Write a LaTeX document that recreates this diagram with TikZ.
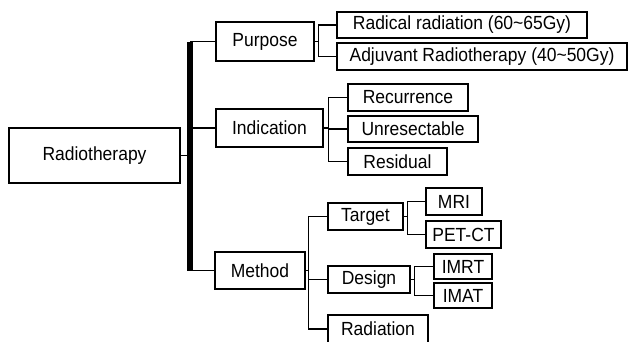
\documentclass[tikz,border=0pt]{standalone}
\usepackage{fontspec}
\setmainfont{Liberation Sans}[FakeStretch=0.92]

\tikzset{
  box/.style={draw, line width=1.4pt, inner sep=0pt, align=center,
    font=\fontsize{19}{21}\selectfont},
  link/.style={line width=1.4pt},
  spinebar/.style={line width=6pt}
}

\begin{document}
\begin{tikzpicture}[x=1pt,y=-1pt]
      \clip (0,0) rectangle (628,341);
      % first level
      \node[box, minimum width=171pt, minimum height=55pt] (root) at (94.5,155.5) {Radiotherapy};
      \node[box, minimum width=98pt, minimum height=39pt] (purpose) at (265,41.5) {Purpose};
      \node[box, minimum width=107pt, minimum height=38pt] (indication) at (269.5,128) {Indication};
      \node[box, minimum width=90pt, minimum height=37pt] (method) at (260,270.5) {Method};
      \coordinate (spine) at (190,155.5);
      \draw[link] (root.east) -- (spine);
      \draw[spinebar] (spine |- purpose.west) -- (spine |- method.west);
      \draw[link] (spine |- purpose.west) -- (purpose.west);
      \draw[link] (spine |- indication.west) -- (indication.west);
      \draw[link] (spine |- method.west) -- (method.west);
      % purpose
      \node[box, minimum width=250pt, minimum height=26pt] (radical) at (462,25) {Radical radiation (60\char`\~65Gy)};
      \node[box, minimum width=290pt, minimum height=27pt] (adjuvant) at (482,56.5) {Adjuvant Radiotherapy (40\char`\~50Gy)};
      \draw[link] (purpose.east) -- ++(4,0) |- (radical.west);
      \draw[link] (purpose.east) -- ++(4,0) |- (adjuvant.west);
      % indication
      \node[box, minimum width=120pt, minimum height=27pt] (recurrence) at (408,97.5) {Recurrence};
      \node[box, minimum width=130pt, minimum height=26pt] (unresectable) at (413,129) {Unresectable};
      \node[box, minimum width=99pt, minimum height=27pt] (residual) at (397.5,161.5) {Residual};
      \draw[link] (indication.east) -- ++(5,0) |- (recurrence.west);
      \draw[link] (indication.east) -- ++(5,0) |- (unresectable.west);
      \draw[link] (indication.east) -- ++(5,0) |- (residual.west);
      % method
      \node[box, minimum width=75pt, minimum height=27pt] (target) at (365.5,216.5) {Target};
      \node[box, minimum width=82pt, minimum height=27pt] (design) at (369,279.5) {Design};
      \node[box, minimum width=100pt, minimum height=28pt] (radiation) at (378,329) {Radiation};
      \draw[link] (method.east) -- ++(3,0) |- (target.west);
      \draw[link] (method.east) -- ++(3,0) |- (design.west);
      \draw[link] (method.east) -- ++(3,0) |- (radiation.west);
      % target
      \node[box, minimum width=56pt, minimum height=27pt] (mri) at (454,201.5) {MRI};
      \node[box, minimum width=75pt, minimum height=27pt] (petct) at (463.5,234.5) {PET-CT};
      \draw[link] (target.east) -- ++(4,0) |- (mri.west);
      \draw[link] (target.east) -- ++(4,0) |- (petct.west);
      % design
      \node[box, minimum width=58pt, minimum height=25pt] (imrt) at (463,266.5) {IMRT};
      \node[box, minimum width=58pt, minimum height=25pt] (imat) at (463,295.5) {IMAT};
      \draw[link] (design.east) -- ++(4,0) |- (imrt.west);
      \draw[link] (design.east) -- ++(4,0) |- (imat.west);
\end{tikzpicture}
\end{document}
